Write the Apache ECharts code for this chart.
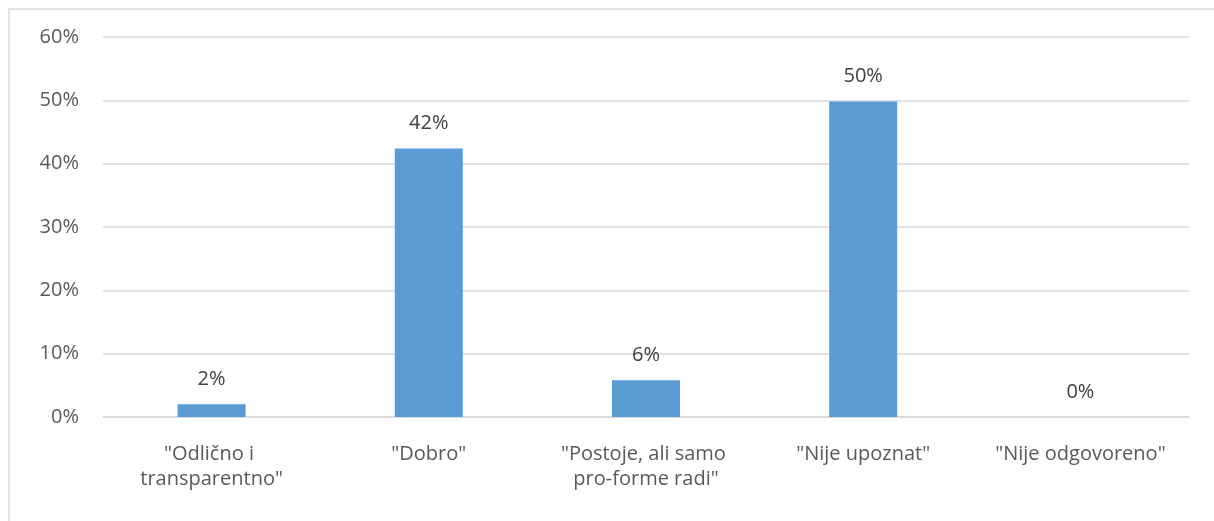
<!DOCTYPE html>
<html>
<head>
<meta charset="utf-8">
<script src="https://cdn.jsdelivr.net/npm/echarts@6/dist/echarts.min.js"></script>
<style>
html,body{margin:0;padding:0;background:#fff;}
#chart{width:1214px;height:521px;}
</style>
</head>
<body>
<div id="chart"></div>
<script>
const categories = ['"Odlično i transparentno"', '"Dobro"', '"Postoje, ali samo pro-forme radi"', '"Nije upoznat"', '"Nije odgovoreno"'];
const values = [0.02, 0.424, 0.058, 0.498, 0];
const yTicks = [0, 0.1, 0.2, 0.3, 0.4, 0.5, 0.6];

const chart = echarts.init(document.getElementById('chart'), null, {renderer: 'canvas'});
const textColor = '#595959';
const font = '"Open Sans", "DejaVu Sans", sans-serif';
chart.setOption({
  animation: false,
  backgroundColor: '#ffffff',
  textStyle: {fontFamily: font},
  graphic: [{
    type: 'rect',
    shape: {x: 9, y: 9, width: 1300, height: 700},
    style: {fill: 'none', stroke: '#d9d9d9', lineWidth: 1.5},
    silent: true,
    z: -10
  }],
  grid: {left: 103, right: 25, top: 37, bottom: 104, containLabel: false},
  xAxis: {
    type: 'category',
    data: categories,
    axisLine: {show: true, lineStyle: {color: '#d9d9d9', width: 1.5}},
    axisTick: {show: false},
    axisLabel: {
      color: textColor, fontSize: 20, fontFamily: font,
      margin: 25, lineHeight: 25,
      width: 175, overflow: 'break', interval: 0
    }
  },
  yAxis: {
    type: 'value',
    min: yTicks[0],
    max: yTicks[yTicks.length - 1],
    interval: 0.1,
    axisLine: {show: false},
    axisTick: {show: false},
    splitLine: {show: true, lineStyle: {color: '#d9d9d9', width: 1.5}},
    axisLabel: {
      color: textColor, fontSize: 20, fontFamily: font, margin: 24,
      formatter: v => Math.round(v * 100) + '%'
    }
  },
  series: [{
    type: 'bar',
    data: values,
    barWidth: '31.3%',
    itemStyle: {color: '#5b9bd5'},
    label: {
      show: true, position: 'top', distance: 15,
      color: '#404040', fontSize: 20, fontFamily: font,
      formatter: p => Math.round(p.value * 100) + '%'
    }
  }]
});
</script>
</body>
</html>
